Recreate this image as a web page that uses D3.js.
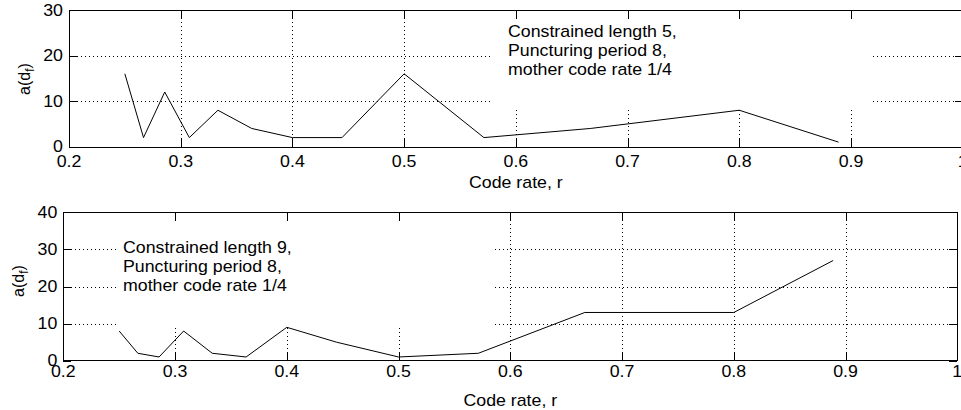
<!DOCTYPE html>
<html>
<head>
<meta charset="utf-8">
<script src="https://cdn.jsdelivr.net/npm/d3@7"></script>
<style>
  html, body { margin: 0; padding: 0; background: #fff; }
  svg { display: block; }
  text { font-family: "Liberation Sans", Arial, sans-serif; font-size: 16px; fill: #000; }
</style>
</head>
<body>
<svg id="chart" width="961" height="410"></svg>
<script>
// Code rates for puncturing period 8 (8/32 ... 8/9)
const codeRates = [0.25, 0.2667, 0.2857, 0.3077, 0.3333, 0.3636, 0.4, 0.4444, 0.5, 0.5714, 0.6667, 0.8, 0.8889];
// a(d_f) for constraint length 5
const adfK5 = [16, 2, 12, 2, 8, 4, 2, 2, 16, 2, 4, 8, 1];
// a(d_f) for constraint length 9
const adfK9 = [8, 2, 1, 8, 2, 1, 9, 5, 1, 2, 13, 13, 27];

const xTicks = [0.2, 0.3, 0.4, 0.5, 0.6, 0.7, 0.8, 0.9, 1];
const yTicksK5 = [0, 10, 20, 30];
const yTicksK9 = [0, 10, 20, 30, 40];
const notesK5 = ["Constrained length 5,", "Puncturing period 8,", "mother code rate 1/4"];
const notesK9 = ["Constrained length 9,", "Puncturing period 8,", "mother code rate 1/4"];

const svg = d3.select("#chart");
const stretch = 1.11;   // text is drawn slightly wide
const tickLen = 9;

function label(g, x, y, str, anchor) {
  return g.append("text")
    .attr("transform", `translate(${x},${y}) scale(${stretch},1)`)
    .attr("text-anchor", anchor)
    .text(str);
}

function panel(opts) {
  const x = d3.scaleLinear().domain([0.2, 1]).range(opts.xRange);
  const y = d3.scaleLinear().domain(opts.yDomain).range(opts.yRange);
  const g = svg.append("g");
  const [x0, x1] = opts.xRange;
  const [yb, yt] = opts.yRange;

  // dotted grid
  const grid = g.append("g")
    .attr("stroke", "#000")
    .attr("stroke-width", 1)
    .attr("stroke-dasharray", "1,3")
    .attr("shape-rendering", "crispEdges");
  grid.selectAll("line.v")
    .data(xTicks.slice(1, -1))
    .join("line")
    .attr("class", "v")
    .attr("x1", d => Math.round(x(d)) + 0.5).attr("x2", d => Math.round(x(d)) + 0.5)
    .attr("y1", yt).attr("y2", yb);
  grid.selectAll("line.h")
    .data(opts.yTicks.slice(1, -1))
    .join("line")
    .attr("class", "h")
    .attr("y1", d => Math.round(y(d)) + 0.5).attr("y2", d => Math.round(y(d)) + 0.5)
    .attr("x1", x0).attr("x2", x1);

  // white backing behind the annotation
  g.append("rect")
    .attr("x", opts.box[0]).attr("y", opts.box[1])
    .attr("width", opts.box[2]).attr("height", opts.box[3])
    .attr("fill", "#fff");

  // data line
  const pts = codeRates.map((r, i) => [r, opts.values[i]]);
  g.append("path")
    .datum(pts)
    .attr("fill", "none")
    .attr("stroke", "#000")
    .attr("stroke-width", 1)
    .attr("d", d3.line().x(d => x(d[0])).y(d => y(d[1])));

  // axes box with inward ticks on all sides
  const ax = g.append("g")
    .attr("stroke", "#000")
    .attr("stroke-width", 1)
    .attr("shape-rendering", "crispEdges");
  ax.append("rect")
    .attr("x", Math.round(x0) + 0.5).attr("y", Math.round(yt) + 0.5)
    .attr("width", Math.round(x1 - x0)).attr("height", Math.round(yb - yt))
    .attr("fill", "none");
  xTicks.forEach(t => {
    const px = Math.round(x(t)) + 0.5;
    ax.append("line").attr("x1", px).attr("x2", px).attr("y1", yb).attr("y2", yb - tickLen);
    ax.append("line").attr("x1", px).attr("x2", px).attr("y1", yt).attr("y2", yt + tickLen);
  });
  opts.yTicks.forEach(t => {
    const py = Math.round(y(t)) + 0.5;
    ax.append("line").attr("y1", py).attr("y2", py).attr("x1", x0).attr("x2", x0 + tickLen - 1);
    ax.append("line").attr("y1", py).attr("y2", py).attr("x1", x1).attr("x2", x1 - tickLen + 1);
  });

  // tick labels
  xTicks.forEach(t => label(g, x(t), opts.xLabelY, String(t), "middle"));
  opts.yTicks.forEach(t => label(g, x0 - 6, y(t) + 5.5, String(t), "end"));

  // axis titles
  label(g, (x0 + x1) / 2, opts.xTitleY, "Code rate, r", "middle");
  const yt2 = g.append("text")
    .attr("transform", `translate(${opts.yTitle[0]},${opts.yTitle[1]}) rotate(-90)`)
    .attr("text-anchor", "middle");
  yt2.append("tspan").text("a(d");
  yt2.append("tspan").attr("font-size", 12).attr("dy", 4).text("f");
  yt2.append("tspan").attr("dy", -4).text(")");

  // annotation text
  opts.notes.forEach((s, i) => label(g, opts.noteX, opts.noteY + i * 19, s, "start"));
}

panel({
  xRange: [69, 962.7],
  yDomain: [0, 30], yRange: [146.7, 10],
  yTicks: yTicksK5,
  values: adfK5,
  box: [490, 16, 383, 94],
  notes: notesK5, noteX: 508, noteY: 37,
  xLabelY: 167, xTitleY: 188,
  yTitle: [30, 79]
});

panel({
  xRange: [63.3, 957.3],
  yDomain: [0, 40], yRange: [360.7, 212.3],
  yTicks: yTicksK9,
  values: adfK9,
  box: [116, 223, 379, 102],
  notes: notesK9, noteX: 123, noteY: 253,
  xLabelY: 377, xTitleY: 406,
  yTitle: [24, 281]
});
</script>
</body>
</html>
